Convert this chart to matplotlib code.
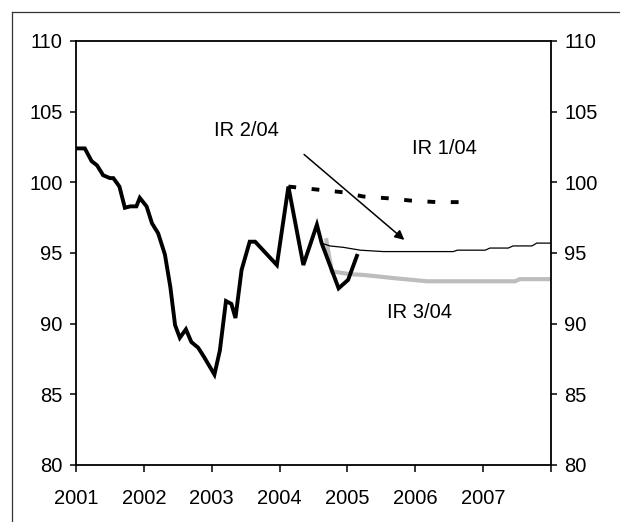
import matplotlib
matplotlib.use("Agg")
import matplotlib.pyplot as plt
from matplotlib.lines import Line2D

plt.rcParams['font.family'] = ['Liberation Sans', 'DejaVu Sans']

# actual index (decimal years)
actual_x = [2001.00, 2001.13, 2001.23, 2001.31, 2001.40, 2001.50, 2001.55, 2001.64,
            2001.72, 2001.80, 2001.89, 2001.94, 2002.04, 2002.12, 2002.21, 2002.31,
            2002.39, 2002.46, 2002.53, 2002.62, 2002.70, 2002.80, 2002.88, 2003.04,
            2003.12, 2003.21, 2003.29, 2003.35, 2003.44, 2003.56, 2003.64, 2003.96,
            2004.13, 2004.35, 2004.55, 2004.62, 2004.87, 2005.01, 2005.14]
actual_y = [102.4, 102.4, 101.5, 101.2, 100.5, 100.3, 100.3, 99.7,
            98.2, 98.3, 98.3, 98.9, 98.3, 97.1, 96.4, 94.9,
            92.6, 89.9, 89.0, 89.6, 88.7, 88.3, 87.7, 86.4,
            88.1, 91.6, 91.4, 90.4, 93.8, 95.8, 95.8, 94.15,
            99.7, 94.15, 97.0, 95.7, 92.5, 93.1, 94.8]

# IR 1/04 forecast (dashed)
ir1_x = [2004.13, 2004.93, 2005.23, 2005.60, 2005.95, 2006.32, 2006.72]
ir1_y = [99.7, 99.3, 99.0, 98.87, 98.7, 98.6, 98.6]

# IR 2/04 forecast (thin black)
ir2_x = [2004.62, 2004.74, 2004.94, 2005.19, 2005.53, 2006.56, 2006.62, 2007.03,
         2007.10, 2007.37, 2007.44, 2007.72, 2007.79, 2008.0]
ir2_y = [95.7, 95.5, 95.4, 95.2, 95.1, 95.1, 95.2, 95.2,
         95.35, 95.35, 95.5, 95.5, 95.7, 95.7]

# IR 3/04 forecast (grey)
ir3_x = [2004.69, 2004.77, 2005.04, 2005.23, 2005.73, 2006.17, 2007.47, 2007.54, 2008.0]
ir3_y = [95.9, 93.7, 93.5, 93.45, 93.2, 93.0, 93.0, 93.15, 93.15]

years = [2001, 2002, 2003, 2004, 2005, 2006, 2007, 2008]
year_labels = ['2001', '2002', '2003', '2004', '2005', '2006', '2007', '']
yticks = [80, 85, 90, 95, 100, 105, 110]

fig = plt.figure(figsize=(6.2, 5.22), dpi=100)
ax = fig.add_axes([76 / 620, 57 / 522, 475 / 620, 424 / 522])

ax.plot(ir3_x, ir3_y, color='#bdbdbd', lw=3.0, solid_joinstyle='miter')
ax.plot(ir2_x, ir2_y, color='black', lw=0.9)
ax.plot(actual_x, actual_y, color='black', lw=2.8, solid_joinstyle='miter')
ax.plot(ir1_x, ir1_y, color='black', lw=2.8, dashes=(2, 4), dash_capstyle='butt')

ax.annotate('', xy=(2005.87, 95.8), xytext=(2004.33, 102.1),
            arrowprops=dict(arrowstyle='-|>', color='black', lw=1.1, mutation_scale=14))

fs = 14.5
ax.text(2003.04, 103.67, 'IR 2/04', fontsize=fs, ha='left', va='center')
ax.text(2005.95, 102.39, 'IR 1/04', fontsize=fs, ha='left', va='center')
ax.text(2005.58, 90.79, 'IR 3/04', fontsize=fs, ha='left', va='center')

ax.set_xlim(2001, 2008)
ax.set_ylim(80, 110)
ax.set_xticks(years)
ax.set_xticklabels(year_labels)
ax.set_yticks(yticks)
ax.tick_params(axis='y', direction='out', length=4.5, width=1.1, labelsize=fs,
               left=True, right=True, labelleft=True, labelright=True, pad=5)
ax.tick_params(axis='x', direction='out', length=5, width=1.1, labelsize=fs, pad=12)
for s in ax.spines.values():
    s.set_linewidth(1.3)

# outer chart frame
fig.add_artist(Line2D([12 / 620, 12 / 620], [0, 1 - 12 / 522], color='#333333', lw=0.9))
fig.add_artist(Line2D([12 / 620, 1], [1 - 12 / 522, 1 - 12 / 522], color='#333333', lw=0.9))

fig.savefig('out.png', dpi=100)
